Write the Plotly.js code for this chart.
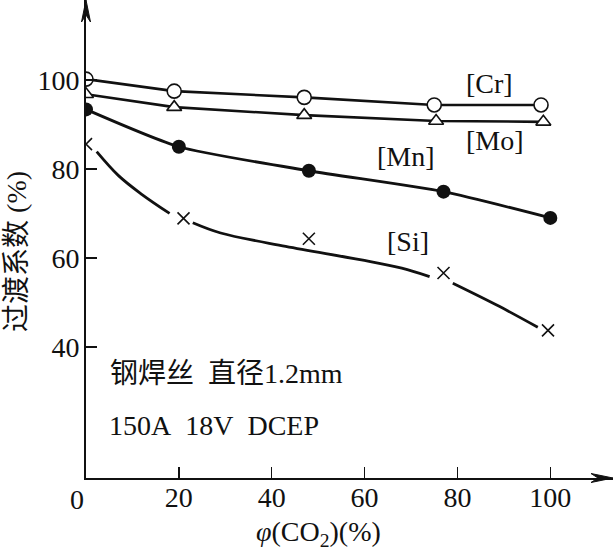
<!DOCTYPE html>
<html>
<head>
<meta charset="utf-8">
<script src="https://cdn.plot.ly/plotly-3.0.1.min.js"></script>
<style>
  html, body { margin: 0; padding: 0; background: #fff; }
  #chart { width: 615px; height: 556px; }
</style>
</head>
<body>
<div id="chart"></div>
<script>
// values
const crX = [0, 19, 47, 75, 98];
const crY = [100.2, 97.5, 96.1, 94.4, 94.4];
const moX = [0, 19, 47, 75.4, 98.5];
const moY = [96.8, 93.9, 92.1, 90.8, 90.6];
const mnX = [0, 20, 48, 77, 100];
const mnY = [93.4, 85.0, 79.6, 74.9, 69.0];
const siX = [0, 21, 48, 77, 99.5];
const siY = [85.6, 68.9, 64.3, 56.6, 43.7];
// hand-drawn trend curve for [Si] (null = gap round a cross)
const siCurveX = [2.3, 7, 12, 18, null, 23, 29, 43, 59, 68, 74, null, 79, 89, 97.3];
const siCurveY = [83.9, 78.5, 74.3, 70.0, null, 67.9, 65.6, 62.6, 59.6, 57.7, 55.8, null, 54.3, 49.1, 44.4];

const xTicks = [20, 40, 60, 80, 100];
const yTicks = [40, 60, 80, 100];

const serif = '"Liberation Serif", "Times New Roman", "Noto Sans CJK SC", serif';
const ink = '#111';

const traces = [
    {
        x: siCurveX, y: siCurveY, type: 'scatter', mode: 'lines',
        line: { color: ink, width: 2.8, shape: 'spline', smoothing: 1 },
        hoverinfo: 'skip'
    },
    {
        x: siX, y: siY, type: 'scatter', mode: 'markers',
        marker: { symbol: 'x-thin', size: 12, line: { color: ink, width: 1.6 } }
    },
    {
        x: mnX, y: mnY, type: 'scatter', mode: 'lines+markers',
        line: { color: ink, width: 2.8, shape: 'spline', smoothing: 0.6 },
        marker: { symbol: 'circle', size: 14, color: ink }
    },
    {
        x: moX, y: moY, type: 'scatter', mode: 'lines+markers',
        line: { color: ink, width: 2.6 },
        marker: { symbol: 'triangle-up', size: 13, color: '#fff', line: { color: ink, width: 1.6 } }
    },
    {
        x: crX, y: crY, type: 'scatter', mode: 'lines+markers',
        line: { color: ink, width: 2.6 },
        marker: { symbol: 'circle', size: 14, color: '#fff', line: { color: ink, width: 1.6 } }
    }
];

const label = (text, x, y, extra) => Object.assign({
    text: text, x: x, y: y, xref: 'x', yref: 'y', showarrow: false,
    xanchor: 'center', yanchor: 'middle',
    font: { family: serif, size: 28, color: ink }
}, extra || {});

const layout = {
    width: 615,
    height: 556,
    margin: { l: 86, r: 2, t: 0, b: 78 },
    paper_bgcolor: '#fff',
    plot_bgcolor: '#fff',
    showlegend: false,
    font: { family: serif, size: 28, color: ink },
    xaxis: {
        range: [0, 113.5],
        showgrid: false, zeroline: false,
        showline: true, linecolor: ink, linewidth: 1.8,
        ticks: 'inside', ticklen: 11, tickwidth: 1.5, tickcolor: ink,
        tickvals: xTicks, ticktext: xTicks.map(String),
        tickfont: { family: serif, size: 28, color: ink },
        ticklabelstandoff: -6
    },
    yaxis: {
        range: [10.5, 118],
        showgrid: false, zeroline: false,
        showline: true, linecolor: ink, linewidth: 1.8,
        ticks: 'inside', ticklen: 11, tickwidth: 1.5, tickcolor: ink,
        tickvals: yTicks, ticktext: yTicks.map(String),
        tickfont: { family: serif, size: 28, color: ink },
        ticklabelstandoff: -1
    },
    shapes: [
        // arrow heads at the ends of both axes
        {
            type: 'path', xref: 'paper', yref: 'paper',
            xsizemode: 'pixel', ysizemode: 'pixel', xanchor: 1, yanchor: 0,
            path: 'M 0 0 L -22 4.5 L -15 0 L -22 -4.5 Z',
            fillcolor: ink, line: { color: ink, width: 1 }
        },
        {
            type: 'path', xref: 'paper', yref: 'paper',
            xsizemode: 'pixel', ysizemode: 'pixel', xanchor: 0, yanchor: 1,
            path: 'M 0 0 L 4.5 -22 L 0 -15 L -4.5 -22 Z',
            fillcolor: ink, line: { color: ink, width: 1 }
        }
    ],
    annotations: [
        label('0', 0, 10.5, { yanchor: 'top', xshift: -9, yshift: -4 }),
        label('[Cr]', 87.0, 99.3),
        label('[Mo]', 88.1, 86.3),
        label('[Mn]', 68.9, 82.7),
        label('[Si]', 69.4, 63.8),
        label('钢焊丝\u00a0 直径1.2mm', 4.7, 33.9, { xanchor: 'left' }),
        label('150A\u00a0\u00a018V\u00a0\u00a0DCEP', 4.5, 22.4, { xanchor: 'left' }),
        label('<i>φ</i>(CO<sub>2</sub>)(%)', 0.442, -0.117, { xref: 'paper', yref: 'paper' }),
        label('过渡系数 (%)', -0.131, 0.475, { xref: 'paper', yref: 'paper', textangle: -90 })
    ]
};

Plotly.newPlot('chart', traces, layout, { displayModeBar: false, staticPlot: true });
</script>
</body>
</html>
